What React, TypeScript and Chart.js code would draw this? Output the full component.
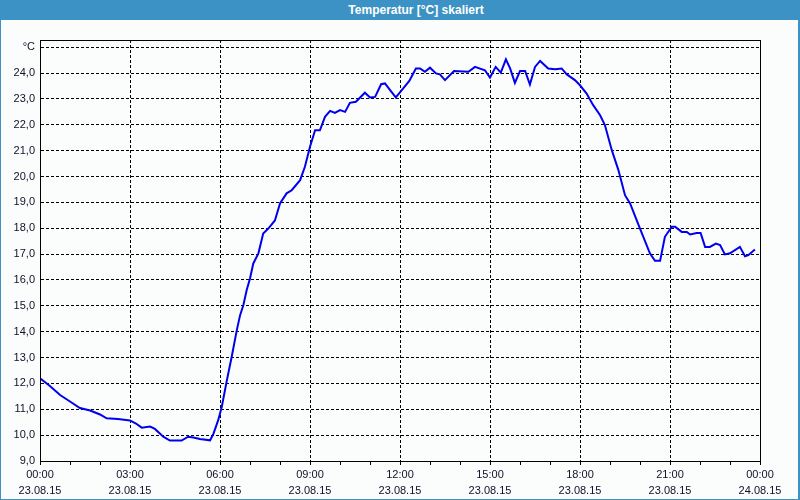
import React, { useEffect, useRef } from 'react';
import { Chart, registerables } from 'chart.js';

Chart.register(...registerables);

const chartTitle = 'Temperatur [°C] skaliert';
const unitLabel = '°C';

// hours since 23.08.15 00:00
const hours = [
  0.0, 0.33, 0.67, 1.0, 1.33, 1.67, 2.0, 2.22, 2.6, 3.0, 3.2, 3.39, 3.67, 3.83, 4.11, 4.33, 4.72, 4.94, 5.11, 5.33,
  5.67, 5.78, 5.94, 6.06, 6.22, 6.39, 6.56, 6.67, 6.78, 6.89, 7.0, 7.11, 7.28, 7.44, 7.61, 7.83, 8.0, 8.22, 8.39, 8.67,
  8.83, 9.0, 9.17, 9.33, 9.5, 9.67, 9.83, 10.0, 10.17, 10.33, 10.53, 10.83, 11.0, 11.17, 11.37, 11.5, 11.67, 11.86, 12.06, 12.31,
  12.53, 12.67, 12.83, 13.0, 13.2, 13.33, 13.5, 13.8, 14.28, 14.5, 14.83, 15.0, 15.19, 15.36, 15.53, 15.67, 15.83, 16.0, 16.17, 16.33,
  16.5, 16.67, 16.94, 17.17, 17.39, 17.56, 17.83, 18.0, 18.22, 18.44, 18.67, 18.83, 19.06, 19.28, 19.5, 19.67, 20.0, 20.33, 20.5, 20.67,
  20.83, 21.06, 21.17, 21.39, 21.56, 21.67, 21.89, 22.02, 22.17, 22.33, 22.53, 22.67, 22.83, 23.0, 23.33, 23.5, 23.61, 23.83,
];
const temps = [
  12.2, 11.9, 11.55, 11.3, 11.05, 10.95, 10.8, 10.65, 10.62, 10.57, 10.45, 10.29, 10.33, 10.24, 9.94, 9.79, 9.79, 9.94, 9.91, 9.85,
  9.8, 10.05, 10.58, 11.1, 12.07, 13.03, 14.06, 14.64, 15.03, 15.61, 16.06, 16.64, 17.03, 17.8, 17.99, 18.3, 18.96, 19.35, 19.47, 19.86,
  20.38, 21.15, 21.79, 21.79, 22.31, 22.54, 22.46, 22.57, 22.5, 22.85, 22.89, 23.24, 23.06, 23.08, 23.57, 23.6, 23.34, 23.06, 23.34, 23.7,
  24.18, 24.18, 24.05, 24.21, 23.99, 23.95, 23.73, 24.08, 24.05, 24.24, 24.11, 23.83, 24.24, 24.02, 24.53, 24.18, 23.62, 24.08, 24.08, 23.56,
  24.24, 24.47, 24.18, 24.15, 24.18, 23.95, 23.73, 23.53, 23.21, 22.76, 22.37, 21.99, 21.02, 20.25, 19.28, 18.96, 17.99, 17.03, 16.74, 16.74,
  17.67, 18.06, 18.06, 17.86, 17.86, 17.76, 17.82, 17.82, 17.28, 17.28, 17.41, 17.35, 16.99, 17.03, 17.28, 16.92, 16.96, 17.18,
];

const xTimeLabels = ['00:00', '03:00', '06:00', '09:00', '12:00', '15:00', '18:00', '21:00', '00:00'];
const xDateLabels = ['23.08.15', '23.08.15', '23.08.15', '23.08.15', '23.08.15', '23.08.15', '23.08.15', '23.08.15', '24.08.15'];

const yMin = 9;
const yMax = 25.28;
const yUnitTick = 25;

const frameBorder = {
  id: 'frameBorder',
  afterDraw(chart: any) {
    const { ctx, chartArea } = chart;
    ctx.save();
    ctx.strokeStyle = '#000';
    ctx.lineWidth = 1;
    ctx.setLineDash([]);
    const l = Math.round(chartArea.left) + 0.5;
    const t = Math.round(chartArea.top) + 0.5;
    const r = Math.round(chartArea.right) + 0.5;
    const b = Math.round(chartArea.bottom) + 0.5;
    ctx.strokeRect(l, t, r - l, b - t);
    ctx.restore();
  },
};

export default function App() {
  const ref = useRef<HTMLCanvasElement>(null);

  useEffect(() => {
    if (!ref.current) return;
    const font = { family: '"Liberation Sans", Arial, sans-serif', size: 11 };
    const textColor = '#101028';
    const chart = new Chart(ref.current, {
      type: 'line',
      data: {
        datasets: [
          {
            data: hours.map((h, i) => ({ x: h, y: temps[i] })),
            borderColor: '#0000ee',
            borderWidth: 2,
            pointRadius: 0,
            tension: 0,
            fill: false,
          },
        ],
      },
      options: {
        animation: false,
        responsive: false,
        maintainAspectRatio: false,
        layout: { padding: { top: 40, right: 40, left: 0, bottom: 0 } },
        plugins: { legend: { display: false }, tooltip: { enabled: false }, title: { display: false } },
        scales: {
          x: {
            type: 'linear',
            min: 0,
            max: 24,
            afterFit: (s: any) => {
              s.height = 39;
            },
            ticks: {
              stepSize: 1,
              autoSkip: false,
              maxRotation: 0,
              minRotation: 0,
              padding: 2,
              color: textColor,
              font: { ...font, lineHeight: 1.45 },
              callback: (v: any) => {
                const n = Number(v);
                if (n % 3 !== 0) return '';
                const i = n / 3;
                return [xTimeLabels[i], xDateLabels[i]];
              },
            },
            grid: {
              color: (c: any) => (c.tick && c.tick.value % 3 === 0 ? '#000' : 'rgba(0,0,0,0)'),
              tickColor: '#000',
              tickLength: 4,
              tickBorderDash: [],
              lineWidth: 1,
            },
            border: { display: true, color: '#000', width: 1, dash: [3, 2] },
          },
          y: {
            type: 'linear',
            min: yMin,
            max: yMax,
            afterFit: (s: any) => {
              s.width = 40;
            },
            ticks: {
              stepSize: 1,
              includeBounds: false,
              autoSkip: false,
              padding: 5,
              color: textColor,
              font,
              callback: (v: any) => {
                const n = Number(v);
                if (n === yUnitTick) return unitLabel;
                return n.toFixed(1).replace('.', ',');
              },
            },
            grid: {
              color: '#000',
              drawTicks: false,
              lineWidth: 1,
            },
            border: { display: true, color: '#000', width: 1, dash: [3, 2] },
          },
        },
      },
      plugins: [frameBorder],
    });
    return () => chart.destroy();
  }, []);

  return (
    <div
      style={{
        position: 'absolute',
        left: 0,
        top: 0,
        width: 800,
        height: 500,
        background: '#fbfdfc',
        boxSizing: 'border-box',
        borderLeft: '1px solid #3c92c4',
        borderRight: '2px solid #3c92c4',
        borderBottom: '1px solid #3c92c4',
        overflow: 'hidden',
      }}
    >
      <div
        style={{
          position: 'absolute',
          left: 0,
          top: 0,
          width: 800,
          height: 20,
          background: '#3c92c4',
          color: '#fff',
          fontFamily: '"Liberation Sans", Arial, sans-serif',
          fontWeight: 'bold',
          fontSize: 12,
          lineHeight: '20px',
          textAlign: 'center',
          paddingLeft: 30,
          boxSizing: 'border-box',
        }}
      >
        {chartTitle}
      </div>
      <canvas ref={ref} width={800} height={500} style={{ position: 'absolute', left: -1, top: 0, width: 800, height: 500 }} />
    </div>
  );
}
